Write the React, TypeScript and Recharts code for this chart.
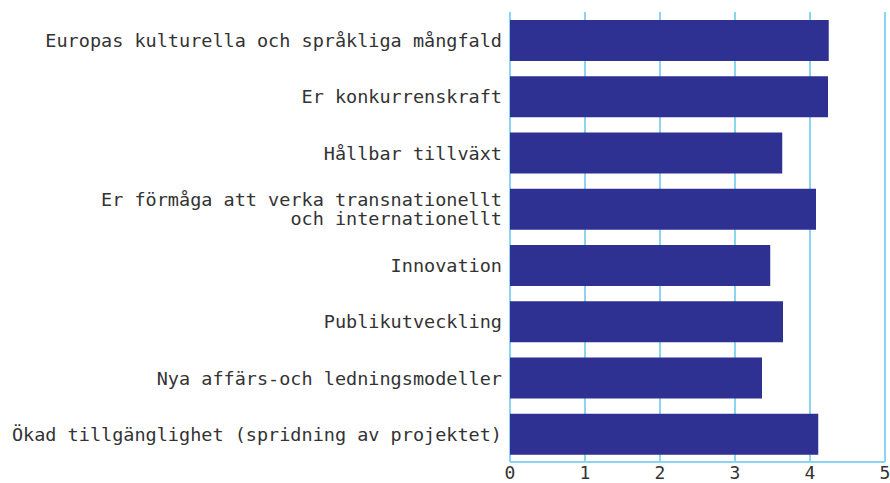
import { BarChart, Bar, XAxis, YAxis, CartesianGrid } from 'recharts';

const categories = [
  'Europas kulturella och språkliga mångfald',
  'Er konkurrenskraft',
  'Hållbar tillväxt',
  'Er förmåga att verka transnationellt\noch internationellt',
  'Innovation',
  'Publikutveckling',
  'Nya affärs-och ledningsmodeller',
  'Ökad tillgänglighet (spridning av projektet)',
];
const scores = [4.25, 4.24, 3.63, 4.08, 3.47, 3.64, 3.36, 4.11];
const xTicks = [0, 1, 2, 3, 4, 5];

const data = categories.map((name, i) => ({ name, score: scores[i] }));

const FONT = '"DejaVu Sans Mono", monospace';
const GRID = '#8ad6f0';

const CategoryTick = (props: any) => {
  const { x, y, payload } = props;
  const lines = String(payload.value).split('\n');
  const lineH = 19;
  const startY = y - ((lines.length - 1) * lineH) / 2;
  return (
    <text
      x={x}
      y={startY}
      textAnchor="end"
      dominantBaseline="central"
      fill="#333"
      fontFamily={FONT}
      fontSize={18.5}
    >
      {lines.map((l, i) => (
        <tspan key={i} x={x} y={startY + i * lineH}>
          {l}
        </tspan>
      ))}
    </text>
  );
};

const ValueTick = (props: any) => {
  const { x, y, payload } = props;
  return (
    <text
      x={x}
      y={y + 2}
      textAnchor="middle"
      dominantBaseline="central"
      fill="#333"
      fontFamily={FONT}
      fontSize={18}
    >
      {payload.value}
    </text>
  );
};

export default function App() {
  return (
    <div style={{ position: 'fixed', top: 0, left: 0, background: '#fff' }}>
      <BarChart
        width={890}
        height={483}
        data={data}
        layout="vertical"
        margin={{ top: 12, right: 5, bottom: 0, left: 0 }}
      >
        <CartesianGrid
          horizontal={false}
          stroke={GRID}
          strokeWidth={2}
        />
        <XAxis
          type="number"
          domain={[0, 5]}
          ticks={xTicks}
          height={21}
          axisLine={{ stroke: GRID, strokeWidth: 2 }}
          tickLine={false}
          tick={<ValueTick />}
        />
        <YAxis
          type="category"
          dataKey="name"
          width={510}
          axisLine={false}
          tickLine={false}
          interval={0}
          tick={<CategoryTick />}
        />
        <Bar
          dataKey="score"
          fill="#2e3192"
          barSize={41}
          isAnimationActive={false}
        />
      </BarChart>
    </div>
  );
}
